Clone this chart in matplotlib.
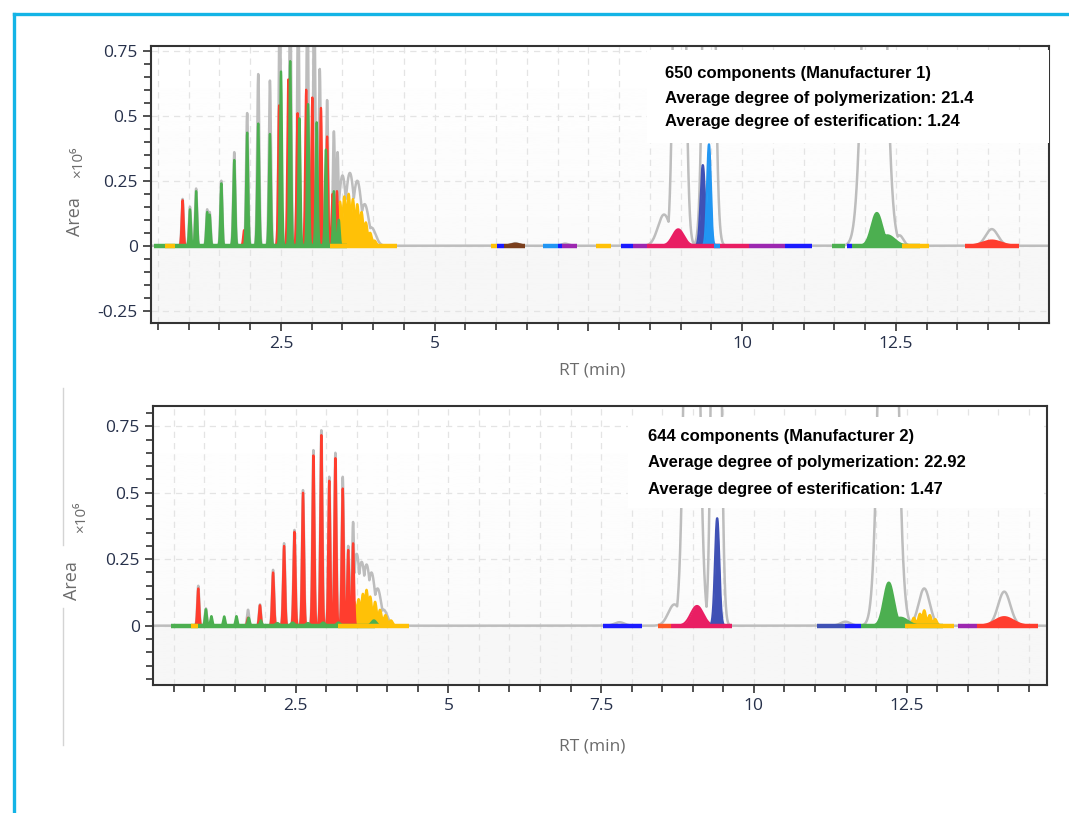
import numpy as np
import matplotlib
matplotlib.use("Agg")
import matplotlib.pyplot as plt
from matplotlib.ticker import MultipleLocator
from matplotlib.lines import Line2D
from matplotlib.patches import Rectangle

# colours of the component traces
palette = {
    "gray": "#bdbdbd", "red": "#ff3d2e", "green": "#4caf50", "yellow": "#ffc107",
    "magenta": "#e91e63", "navy": "#3f51b5", "lightblue": "#2196f3",
    "blue": "#1a1aff", "purple": "#9c27b0", "brown": "#7b3f1d", "orange": "#ff5722",
}

# ---------------- panel 1 : manufacturer 1 ----------------
# total ion trace (grey): retention time, height (x1e6), width
top_tic_rt = [0.90, 1.02, 1.12, 1.30, 1.34, 1.53, 1.74, 1.95, 2.13, 2.32, 2.48, 2.65, 2.78, 2.93,
              3.04, 3.13, 3.25, 3.36, 3.42, 3.50, 3.62, 3.74, 3.86, 3.97, 6.31, 7.12, 8.73, 8.98,
              9.46, 12.15, 12.56, 14.06]
top_tic_h = [0.18, 0.15, 0.22, 0.14, 0.13, 0.25, 0.36, 0.51, 0.66, 0.635, 1.0, 1.0, 1.0, 1.0,
             1.0, 0.68, 0.56, 0.44, 0.36, 0.27, 0.28, 0.25, 0.16, 0.07, 0.01, 0.008, 0.12, 3.0,
             3.0, 3.0, 0.04, 0.064]
top_tic_w = [0.016, 0.016, 0.016, 0.016, 0.016, 0.016, 0.017, 0.017, 0.017, 0.017, 0.017, 0.017, 0.017, 0.017,
             0.017, 0.017, 0.017, 0.017, 0.017, 0.06, 0.07, 0.07, 0.07, 0.07, 0.06, 0.06, 0.1, 0.067,
             0.067, 0.127, 0.06, 0.1]

# component peaks
top_pk_rt = [0.90, 1.73, 1.90, 2.47, 2.62, 2.77, 2.91, 3.01, 3.15, 3.25, 3.34, 3.41, 14.06,
             1.02, 1.12, 1.30, 1.34, 1.53, 1.74, 1.95, 2.13, 2.32, 2.50, 2.65, 2.80, 2.94, 3.08,
             3.23, 3.36, 3.44, 12.19, 12.36,
             3.38, 3.46, 3.53, 3.60, 3.67, 3.74, 3.81, 3.88, 3.95, 4.02,
             8.96, 9.41, 9.36, 9.46, 6.31]
top_pk_h = [0.175, 0.04, 0.06, 0.54, 0.64, 0.51, 0.60, 0.57, 0.53, 0.42, 0.20, 0.21, 0.02,
            0.14, 0.21, 0.13, 0.12, 0.24, 0.33, 0.435, 0.47, 0.43, 0.67, 0.71, 0.49, 0.545, 0.475,
            0.37, 0.21, 0.10, 0.126, 0.04,
            0.10, 0.17, 0.19, 0.20, 0.18, 0.16, 0.13, 0.09, 0.05, 0.02,
            0.063, 0.035, 0.31, 0.39, 0.008]
top_pk_w = [0.015, 0.015, 0.015, 0.016, 0.016, 0.016, 0.016, 0.016, 0.016, 0.016, 0.015, 0.015, 0.15,
            0.015, 0.015, 0.015, 0.015, 0.015, 0.016, 0.016, 0.016, 0.016, 0.016, 0.016, 0.016, 0.016, 0.016,
            0.016, 0.015, 0.015, 0.085, 0.12,
            0.028, 0.028, 0.028, 0.028, 0.028, 0.028, 0.028, 0.028, 0.028, 0.028,
            0.09, 0.035, 0.035, 0.03, 0.08]
top_pk_col = ["red"] * 13 + ["green"] * 19 + ["yellow"] * 10 + ["magenta", "magenta", "navy", "lightblue", "brown"]

# zero-height components drawn along the baseline
top_seg_x0 = [0.43, 0.62, 3.30, 5.91, 6.01, 6.13, 6.76, 7.00, 7.07, 7.63, 8.03, 8.23, 8.45, 9.54,
              9.79, 10.11, 10.69, 11.46, 11.71, 11.78, 12.60, 13.63]
top_seg_x1 = [3.57, 0.78, 4.38, 6.01, 6.13, 6.47, 7.00, 7.07, 7.32, 7.87, 8.23, 8.45, 9.79, 9.64,
              10.11, 10.69, 11.13, 11.68, 11.78, 12.90, 13.04, 14.50]
top_seg_col = ["green", "yellow", "yellow", "yellow", "blue", "brown", "lightblue", "blue", "purple",
               "yellow", "blue", "purple", "magenta", "lightblue", "magenta", "purple", "blue",
               "green", "blue", "green", "yellow", "red"]

top_text = ["650 components (Manufacturer 1)",
            "Average degree of polymerization: 21.4",
            "Average degree of esterification: 1.24"]

# ---------------- panel 2 : manufacturer 2 ----------------
bot_tic_rt = [0.905, 1.03, 1.72, 1.915, 2.13, 2.31, 2.48, 2.62, 2.79, 2.92, 3.05, 3.15, 3.27, 3.36,
              3.44, 3.50, 3.58, 3.66, 3.74, 3.84, 3.94, 7.80, 8.70, 8.985, 9.385, 11.50, 12.20,
              12.79, 14.10]
bot_tic_h = [0.15, 0.065, 0.06, 0.08, 0.21, 0.31, 0.36, 0.51, 0.66, 0.735, 0.56, 0.65, 0.56, 0.30,
             0.39, 0.27, 0.24, 0.23, 0.20, 0.14, 0.06, 0.013, 0.08, 3.0, 3.0, 0.015, 3.0,
             0.14, 0.128]
bot_tic_w = [0.016, 0.016, 0.016, 0.016, 0.017, 0.017, 0.017, 0.017, 0.017, 0.017, 0.017, 0.017, 0.017, 0.017,
             0.017, 0.05, 0.06, 0.06, 0.06, 0.06, 0.06, 0.08, 0.1, 0.088, 0.058, 0.08, 0.11,
             0.09, 0.1]

bot_pk_rt = [0.905, 1.72, 1.915, 2.13, 2.31, 2.48, 2.62, 2.79, 2.92, 3.05, 3.15, 3.27, 3.36, 3.44, 14.10,
             1.03, 1.12, 1.33, 1.53, 1.73, 1.93, 2.20, 2.45, 2.70, 2.95, 3.20, 3.78, 12.21, 12.40,
             3.30, 3.38, 3.46, 3.53, 3.60, 3.66, 3.72, 3.80, 3.88, 3.97, 4.06,
             12.62, 12.72, 12.79, 12.88, 12.97,
             9.07, 9.38, 9.40]
bot_pk_h = [0.14, 0.03, 0.077, 0.20, 0.30, 0.353, 0.50, 0.64, 0.717, 0.545, 0.63, 0.516, 0.285, 0.31, 0.032,
            0.062, 0.036, 0.035, 0.036, 0.03, 0.02, 0.01, 0.012, 0.01, 0.012, 0.012, 0.02, 0.162, 0.03,
            0.05, 0.07, 0.09, 0.10, 0.12, 0.135, 0.11, 0.09, 0.06, 0.04, 0.02,
            0.03, 0.045, 0.058, 0.04, 0.025,
            0.074, 0.065, 0.404]
bot_pk_w = [0.015, 0.015, 0.015, 0.016, 0.016, 0.016, 0.016, 0.016, 0.016, 0.016, 0.016, 0.016, 0.015, 0.015, 0.15,
            0.016, 0.016, 0.016, 0.016, 0.016, 0.016, 0.03, 0.03, 0.03, 0.03, 0.03, 0.04, 0.08, 0.12,
            0.028, 0.028, 0.028, 0.028, 0.028, 0.028, 0.028, 0.028, 0.028, 0.028, 0.028,
            0.028, 0.028, 0.028, 0.028, 0.028,
            0.1, 0.025, 0.035]
bot_pk_col = ["red"] * 15 + ["green"] * 14 + ["yellow"] * 16 + ["magenta", "magenta", "navy"]

bot_seg_x0 = [0.46, 0.78, 3.20, 7.53, 8.43, 8.65, 11.03, 11.50, 11.76, 12.47, 13.34, 13.66]
bot_seg_x1 = [3.80, 0.90, 4.35, 8.17, 8.65, 9.65, 11.50, 11.76, 13.10, 13.27, 13.66, 14.65]
bot_seg_col = ["green", "yellow", "yellow", "blue", "orange", "magenta", "navy", "blue", "green",
               "yellow", "purple", "red"]

bot_text = ["644 components (Manufacturer 2)",
            "Average degree of polymerization: 22.92",
            "Average degree of esterification: 1.47"]

draw_order = ["yellow", "red", "green", "brown", "magenta", "navy", "lightblue"]


def envelope(x, rt, h, w):
    y = np.zeros_like(x)
    for c, hh, ww in zip(rt, h, w):
        y = np.maximum(y, hh * np.exp(-0.5 * ((x - c) / ww) ** 2))
    return y


def draw_panel(ax, xlim, ylim, tic, pks, segs, text, box, text_x, text_y, xlabels):
    x = np.linspace(xlim[0], xlim[1], 12000)

    # soft grey background, darker below the baseline
    frac0 = (0 - ylim[0]) / (ylim[1] - ylim[0])
    rows = np.linspace(1, 0, 400)
    grad = np.where(rows > frac0, 0.982 + 0.018 * (rows - frac0) / (1 - frac0), 0.968)
    ax.imshow(grad[:, None], extent=[0, 1, 0, 1], transform=ax.transAxes, aspect="auto",
              cmap="gray", vmin=0, vmax=1, zorder=0)

    ax.plot(x, envelope(x, *tic), color=palette["gray"], lw=1.8, zorder=2)

    rt, h, w, col = pks
    for name in draw_order:
        idx = [i for i, c in enumerate(col) if c == name]
        if not idx:
            continue
        y = envelope(x, [rt[i] for i in idx], [h[i] for i in idx], [w[i] for i in idx])
        m = y > 0.003
        ax.fill_between(x, 0, y, where=m, color=palette[name], lw=0, zorder=3)
        ax.plot(x, np.where(m, y, np.nan), color=palette[name], lw=1.6, zorder=3)

    for a, b, c in zip(*segs):
        ax.plot([a, b], [0, 0], color=palette[c], lw=3.2, solid_capstyle="butt", zorder=4)

    ax.set_xlim(xlim)
    ax.set_ylim(ylim)

    ax.set_xticks([2.5, 5, 7.5, 10, 12.5])
    ax.set_xticklabels(xlabels)
    ax.xaxis.set_minor_locator(MultipleLocator(0.5))
    ax.set_yticks([-0.25, 0, 0.25, 0.5, 0.75])
    ax.set_yticklabels(["-0.25", "0", "0.25", "0.5", "0.75"])
    ax.yaxis.set_minor_locator(MultipleLocator(0.05))
    ax.set_ylim(ylim)

    ax.set_axisbelow(True)
    ax.grid(True, which="both", axis="x", color="#e4e4e4", ls=(0, (5, 4)), lw=0.9)
    ax.grid(True, which="major", axis="y", color="#e4e4e4", ls=(0, (5, 4)), lw=0.9)

    ax.tick_params(which="both", direction="out", color="#333333", width=1.2,
                   labelcolor="#26304a", labelsize=12.5)
    ax.tick_params(which="major", length=6)
    ax.tick_params(which="minor", length=5)
    for t in ax.get_xticklabels() + ax.get_yticklabels():
        t.set_fontfamily("Open Sans")
    for s in ax.spines.values():
        s.set_color("#333333")
        s.set_linewidth(1.5)

    ax.add_patch(Rectangle((box[0], box[1]), box[2] - box[0], box[3] - box[1],
                           transform=ax.transAxes, facecolor="white", edgecolor="none", zorder=5))
    for line, ty in zip(text, text_y):
        ax.text(text_x, ty, line, transform=ax.transAxes, fontsize=12, fontweight="bold",
                family="Liberation Sans", color="black", va="center", ha="left", zorder=6)


W, H = 1069, 813
fig = plt.figure(figsize=(W / 100, H / 100), dpi=100)
fig.patch.set_facecolor("white")


def px_axes(l, t, r, b):
    return fig.add_axes([l / W, 1 - b / H, (r - l) / W, (b - t) / H])


ax1 = px_axes(151, 46, 1049, 323)
draw_panel(ax1, (0.386, 14.99), (-0.297, 0.768),
           (top_tic_rt, top_tic_h, top_tic_w),
           (top_pk_rt, top_pk_h, top_pk_w, top_pk_col),
           (top_seg_x0, top_seg_x1, top_seg_col),
           top_text, (0.552, 0.65, 1.0, 0.985), 0.5724, (0.9025, 0.812, 0.726),
           ["2.5", "5", "", "10", "12.5"])

ax2 = px_axes(153, 406, 1047, 685)
draw_panel(ax2, (0.164, 14.8), (-0.223, 0.826),
           (bot_tic_rt, bot_tic_h, bot_tic_w),
           (bot_pk_rt, bot_pk_h, bot_pk_w, bot_pk_col),
           (bot_seg_x0, bot_seg_x1, bot_seg_col),
           bot_text, (0.531, 0.634, 0.997, 0.96), 0.5537, (0.889, 0.796, 0.7025),
           ["2.5", "5", "7.5", "10", "12.5"])

lab = dict(color="#6b6b6b", family=["Open Sans", "DejaVu Sans"], ha="center", va="center")
fig.text(75 / W, 1 - 217 / H, "Area", rotation=90, fontsize=13, **lab)
fig.text(79 / W, 1 - 162 / H, "×10⁶", rotation=90, fontsize=11, **lab)
fig.text(72 / W, 1 - 581 / H, "Area", rotation=90, fontsize=13, **lab)
fig.text(82 / W, 1 - 517 / H, "×10⁶", rotation=90, fontsize=11, **lab)
fig.text(592 / W, 1 - 370 / H, "RT (min)", fontsize=12.5, **lab)
fig.text(592 / W, 1 - 746 / H, "RT (min)", fontsize=12.5, **lab)

# cyan frame and the thin separator line on the left
cyan = "#14b4e6"
fig.add_artist(Line2D([14 / W, 1], [1 - 14 / H, 1 - 14 / H], color=cyan, lw=2.4))
fig.add_artist(Line2D([14 / W, 14 / W], [0, 1 - 14 / H], color=cyan, lw=2.4))
fig.add_artist(Line2D([63 / W, 63 / W], [1 - 388 / H, 1 - 545 / H], color="#d4d4d4", lw=1))
fig.add_artist(Line2D([63 / W, 63 / W], [1 - 608 / H, 1 - 745 / H], color="#d4d4d4", lw=1))

fig.savefig("out.png", dpi=100)
